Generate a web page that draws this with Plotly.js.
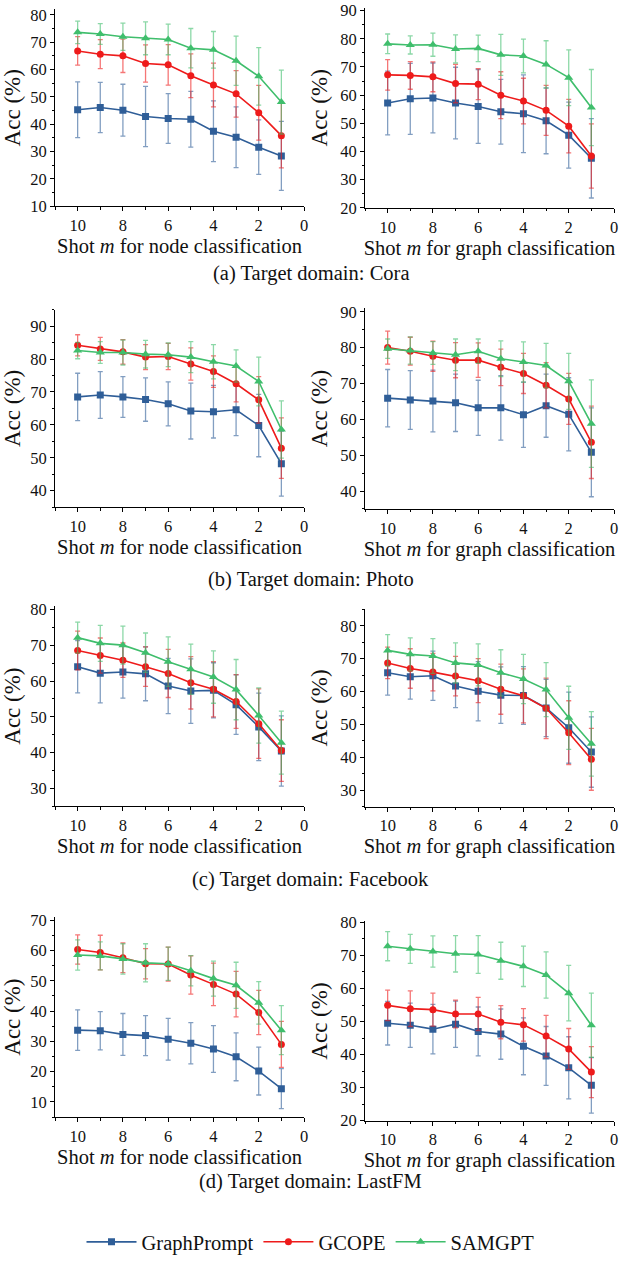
<!DOCTYPE html>
<html>
<head>
<meta charset="utf-8">
<script src="https://cdn.plot.ly/plotly-3.0.1.min.js"></script>
<style>html,body{margin:0;padding:0;background:#fff;}#chart{width:621px;height:1262px;}</style>
</head>
<body>
<div id="chart"></div>
<script>
// ---- data ----
const shots = [10, 9, 8, 7, 6, 5, 4, 3, 2, 1];
const seriesNames = ["GraphPrompt", "GCOPE", "SAMGPT"];
const captions = ["(a) Target domain: Cora", "(b) Target domain: Photo", "(c) Target domain: Facebook", "(d) Target domain: LastFM"];
const xTitles = ["Shot <i>m</i> for node classification", "Shot <i>m</i> for graph classification"];

// Cora
const coraNodeGP = [45.3, 46.1, 45.1, 42.8, 42.1, 41.8, 37.4, 35.2, 31.6, 28.4];
const coraNodeGPErr = [10.2, 9.2, 9.5, 11.0, 9.1, 10.2, 11.1, 11.1, 10.0, 12.6];
const coraNodeGC = [66.8, 65.6, 65.0, 62.2, 61.7, 57.7, 54.3, 51.1, 44.2, 35.8];
const coraNodeGCErr = [5.2, 5.3, 6.1, 6.8, 7.4, 8.0, 8.0, 8.5, 10.0, 11.8];
const coraNodeSA = [73.6, 73.0, 72.0, 71.4, 71.0, 67.8, 67.2, 63.2, 57.5, 48.1];
const coraNodeSAErr = [4.1, 3.8, 5.0, 6.0, 5.6, 7.2, 6.7, 9.0, 10.5, 11.7];

const coraGraphGP = [57.2, 58.7, 59.0, 57.2, 56.0, 54.1, 53.4, 50.9, 45.8, 37.6];
const coraGraphGPErr = [11.3, 12.6, 12.4, 12.7, 13.1, 11.5, 13.8, 11.7, 11.7, 14.1];
const coraGraphGC = [67.2, 67.0, 66.5, 64.1, 63.9, 60.0, 57.9, 54.6, 49.0, 38.4];
const coraGraphGCErr = [5.4, 4.9, 5.3, 6.8, 5.5, 8.3, 8.1, 8.9, 9.5, 11.4];
const coraGraphSA = [78.2, 77.8, 77.9, 76.4, 76.6, 74.3, 73.9, 70.9, 66.2, 55.6];
const coraGraphSAErr = [3.5, 3.2, 4.1, 5.0, 4.7, 7.3, 6.0, 8.4, 9.9, 13.5];

// Photo
const photoNodeGP = [68.5, 69.1, 68.5, 67.7, 66.4, 64.2, 64.0, 64.6, 59.8, 48.2];
const photoNodeGPErr = [7.2, 7.1, 6.2, 6.6, 6.7, 8.5, 8.0, 7.9, 9.5, 9.9];
const photoNodeGC = [84.2, 83.1, 82.2, 80.6, 80.8, 78.5, 76.2, 72.5, 67.6, 52.9];
const photoNodeGCErr = [3.2, 3.5, 3.7, 3.8, 4.0, 4.9, 4.8, 5.5, 7.1, 9.2];
const photoNodeSA = [82.6, 82.0, 82.0, 81.5, 81.3, 80.6, 79.2, 77.9, 73.2, 58.6];
const photoNodeSAErr = [2.5, 3.3, 3.8, 4.2, 3.6, 4.7, 5.2, 4.9, 7.4, 8.7];

const photoGraphGP = [65.9, 65.4, 65.1, 64.6, 63.2, 63.2, 61.3, 63.8, 61.4, 50.8];
const photoGraphGPErr = [8.0, 8.2, 8.6, 8.0, 7.7, 9.0, 9.1, 8.8, 10.2, 12.4];
const photoGraphGC = [80.0, 79.0, 77.6, 76.5, 76.5, 74.5, 72.8, 69.5, 65.7, 53.6];
const photoGraphGCErr = [4.6, 3.9, 4.2, 4.9, 4.8, 5.1, 5.6, 6.3, 7.1, 10.1];
const photoGraphSA = [79.7, 79.2, 78.5, 78.0, 79.0, 76.9, 76.0, 75.0, 70.6, 58.8];
const photoGraphSAErr = [2.7, 3.8, 3.2, 4.4, 3.4, 5.0, 5.6, 6.2, 7.8, 12.2];

// Facebook
const fbNodeGP = [64.0, 62.2, 62.5, 62.0, 58.6, 57.2, 57.4, 53.4, 47.2, 40.5];
const fbNodeGPErr = [7.3, 8.3, 7.3, 7.5, 7.7, 9.0, 7.7, 8.3, 9.4, 9.8];
const fbNodeGC = [68.5, 67.1, 65.8, 64.0, 62.1, 59.5, 57.7, 54.3, 48.1, 40.6];
const fbNodeGCErr = [5.4, 4.9, 4.8, 5.5, 6.7, 7.3, 7.7, 7.5, 9.7, 8.6];
const fbNodeSA = [72.1, 70.5, 70.0, 67.9, 65.4, 63.3, 61.1, 57.6, 50.4, 42.8];
const fbNodeSAErr = [4.3, 5.0, 5.3, 5.5, 6.9, 7.0, 7.3, 8.4, 7.7, 8.8];

const fbGraphGP = [65.7, 64.5, 64.8, 61.7, 60.1, 58.9, 58.8, 55.0, 49.0, 41.6];
const fbGraphGPErr = [6.8, 6.8, 7.5, 6.6, 9.0, 8.6, 8.8, 8.7, 10.8, 10.7];
const fbGraphGC = [68.7, 67.0, 65.9, 64.7, 63.3, 60.7, 58.7, 54.9, 47.5, 39.4];
const fbGraphGCErr = [4.8, 6.0, 5.7, 6.0, 6.7, 7.6, 8.2, 9.2, 9.7, 9.4];
const fbGraphSA = [72.5, 71.3, 70.8, 68.7, 68.1, 65.7, 63.8, 60.6, 52.0, 44.1];
const fbGraphSAErr = [4.8, 5.0, 5.3, 6.1, 6.4, 7.0, 7.5, 8.2, 9.6, 9.8];

// LastFM
const lfmNodeGP = [33.7, 33.5, 32.3, 31.9, 30.7, 29.4, 27.5, 24.9, 20.2, 14.4];
const lfmNodeGPErr = [6.7, 6.3, 6.9, 6.6, 6.9, 6.8, 7.7, 7.9, 7.9, 6.6];
const lfmNodeGC = [60.3, 59.3, 57.6, 55.6, 55.5, 51.9, 48.8, 45.6, 39.5, 29.0];
const lfmNodeGCErr = [4.8, 5.7, 4.9, 5.0, 5.6, 6.3, 7.0, 7.5, 7.3, 7.6];
const lfmNodeSA = [58.5, 58.2, 57.2, 55.9, 55.6, 53.3, 50.7, 48.5, 42.7, 33.7];
const lfmNodeSAErr = [5.0, 4.6, 5.0, 6.3, 5.5, 5.0, 5.8, 7.6, 7.0, 8.1];

const lfmGraphGP = [49.5, 48.9, 47.7, 49.2, 47.0, 46.2, 42.5, 39.6, 36.0, 30.7];
const lfmGraphGPErr = [6.6, 6.7, 7.5, 7.0, 7.4, 7.6, 8.6, 8.9, 9.4, 8.4];
const lfmGraphGC = [54.9, 53.9, 53.6, 52.3, 52.3, 49.8, 49.0, 45.6, 41.7, 34.7];
const lfmGraphGCErr = [4.6, 5.4, 5.0, 4.2, 5.0, 5.0, 4.9, 6.3, 6.2, 7.7];
const lfmGraphSA = [72.8, 72.0, 71.2, 70.5, 70.3, 68.4, 66.7, 64.1, 58.6, 48.9];
const lfmGraphSAErr = [4.4, 4.4, 4.7, 5.5, 5.7, 5.6, 6.1, 7.0, 8.4, 9.7];

// ---- panels (data refs) ----
const panels = [
  {gp: coraNodeGP, gpe: coraNodeGPErr, gc: coraNodeGC, gce: coraNodeGCErr, sa: coraNodeSA, sae: coraNodeSAErr},
  {gp: coraGraphGP, gpe: coraGraphGPErr, gc: coraGraphGC, gce: coraGraphGCErr, sa: coraGraphSA, sae: coraGraphSAErr},
  {gp: photoNodeGP, gpe: photoNodeGPErr, gc: photoNodeGC, gce: photoNodeGCErr, sa: photoNodeSA, sae: photoNodeSAErr},
  {gp: photoGraphGP, gpe: photoGraphGPErr, gc: photoGraphGC, gce: photoGraphGCErr, sa: photoGraphSA, sae: photoGraphSAErr},
  {gp: fbNodeGP, gpe: fbNodeGPErr, gc: fbNodeGC, gce: fbNodeGCErr, sa: fbNodeSA, sae: fbNodeSAErr},
  {gp: fbGraphGP, gpe: fbGraphGPErr, gc: fbGraphGC, gce: fbGraphGCErr, sa: fbGraphSA, sae: fbGraphSAErr},
  {gp: lfmNodeGP, gpe: lfmNodeGPErr, gc: lfmNodeGC, gce: lfmNodeGCErr, sa: lfmNodeSA, sae: lfmNodeSAErr},
  {gp: lfmGraphGP, gpe: lfmGraphGPErr, gc: lfmGraphGC, gce: lfmGraphGCErr, sa: lfmGraphSA, sae: lfmGraphSAErr}
];

// ---- geometry / style ----
const W = 621, H = 1262;
const yRanges = [[10, 82], [20, 91], [35, 95], [35, 91], [25, 81], [25, 85], [5, 71], [20, 80.3]];
const yPx = [[9.5, 209], [7.9, 210.7], [314, 514], [312.4, 515.9], [614, 817.5], [617.6, 817.7], [929.6, 1132.4], [934, 1136]];
const xPx = [[55, 304], [365, 614]];
const captionY = [277, 587, 892, 1198];
const colors = ["#2F5E98", "#EE1B1B", "#3FBE6C"];
const errColors = ["rgba(47,94,152,0.6)", "rgba(238,27,27,0.6)", "rgba(63,190,108,0.6)"];
const symbols = ["square", "circle", "triangle-up"];
const msizes = [7, 7, 8];
const FONT = "Liberation Serif, Times New Roman, serif";

const traces = [];
const layout = {
  width: W, height: H,
  margin: {l: 0, r: 0, t: 0, b: 0},
  paper_bgcolor: "#fff", plot_bgcolor: "rgba(0,0,0,0)",
  font: {family: FONT, color: "#111", size: 16},
  showlegend: true,
  legend: {orientation: "h", x: 0.5, xanchor: "center", y: 1 - 1259 / H, yanchor: "middle",
           font: {family: FONT, size: 20.5, color: "#111"}, itemwidth: 50, tracegroupgap: 0,
           bgcolor: "rgba(0,0,0,0)"},
  annotations: []
};

panels.forEach((p, i) => {
  const k = i + 1;
  const xa = "x" + (k === 1 ? "" : k), ya = "y" + (k === 1 ? "" : k);
  const col = i % 2;
  const vals = [[p.gp, p.gpe], [p.gc, p.gce], [p.sa, p.sae]];
  vals.forEach((v, s) => {
    traces.push({
      type: "scatter", mode: "lines+markers",
      x: shots, y: v[0],
      error_y: {type: "data", array: v[1], visible: true, color: errColors[s], thickness: 1.3, width: 2.5},
      name: seriesNames[s], legendgroup: seriesNames[s], showlegend: i === 0,
      line: {color: colors[s], width: 1.6},
      marker: {symbol: symbols[s], size: msizes[s], color: colors[s]},
      xaxis: xa, yaxis: ya
    });
  });
  const xd = xPx[col], yd = yPx[i];
  layout["xaxis" + (k === 1 ? "" : k)] = {
    domain: [xd[0] / W, xd[1] / W], anchor: ya,
    range: [11, 0], tickmode: "array", tickvals: [10, 8, 6, 4, 2, 0],
    showline: true, linecolor: "#000", linewidth: 1, mirror: false,
    ticks: "outside", ticklen: 4, tickcolor: "#000", tickwidth: 1,
    minor: {dtick: 1, tick0: 0, ticks: "outside", ticklen: 2.5, tickcolor: "#000", showgrid: false},
    showgrid: false, zeroline: false,
    tickfont: {family: FONT, size: 16.5, color: "#111"},
    title: {text: xTitles[col], font: {family: FONT, size: 20.5, color: "#111"}, standoff: 2}
  };
  layout["yaxis" + (k === 1 ? "" : k)] = {
    domain: [1 - yd[1] / H, 1 - yd[0] / H], anchor: xa,
    range: yRanges[i], dtick: 10, tick0: 0,
    showline: true, linecolor: "#000", linewidth: 1,
    ticks: "outside", ticklen: 4, tickcolor: "#000", tickwidth: 1,
    minor: {dtick: 5, tick0: 0, ticks: "outside", ticklen: 2.5, tickcolor: "#000", showgrid: false},
    showgrid: false, zeroline: false,
    tickfont: {family: FONT, size: 16.5, color: "#111"},
    title: {text: "Acc (%)", font: {family: FONT, size: 23, color: "#111"}, standoff: 6}
  };
});

captions.forEach((c, r) => {
  layout.annotations.push({
    text: c, xref: "paper", yref: "paper", x: 0.5, y: 1 - captionY[r] / H,
    xanchor: "center", yanchor: "middle", showarrow: false,
    font: {family: FONT, size: 20.5, color: "#111"}
  });
});

Plotly.newPlot("chart", traces, layout, {staticPlot: true, displayModeBar: false});
</script>
</body>
</html>
